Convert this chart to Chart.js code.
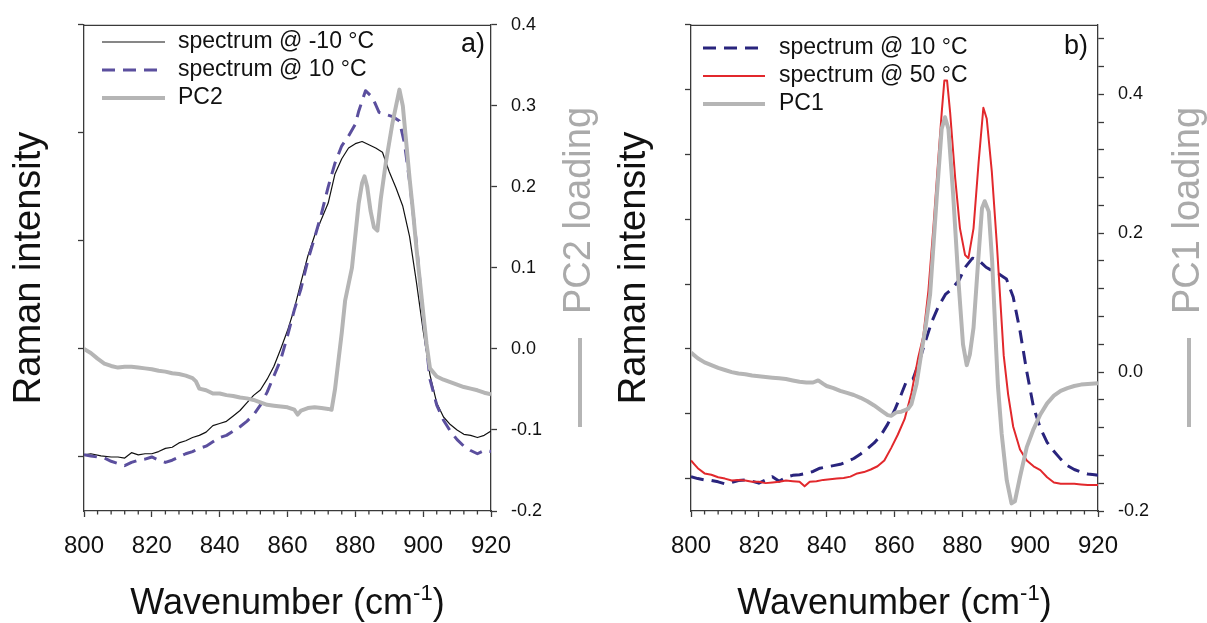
<!DOCTYPE html>
<html><head><meta charset="utf-8">
<script src="https://cdn.jsdelivr.net/npm/chart.js@4.4.1/dist/chart.umd.min.js"></script>
<style>
html,body{margin:0;padding:0;background:#fff;}
#wrap{position:relative;width:1207px;height:623px;overflow:hidden;background:#fff;}
.panel{position:absolute;top:0;height:623px;}
#pa{left:0;width:605px;}
#pb{left:605px;width:602px;}
canvas{display:block;}
</style></head><body>
<div id="wrap">
  <div class="panel" id="pa"><canvas id="ca" width="605" height="623"></canvas></div>
  <div class="panel" id="pb"><canvas id="cb" width="602" height="623"></canvas></div>
</div>
<script>
// ---------- tick definitions ----------
const xTicks = [800, 820, 840, 860, 880, 900, 920];
const xMinorTicks = [804, 808, 812, 816, 824, 828, 832, 836, 844, 848, 852, 856, 864, 868, 872, 876, 884, 888, 892, 896, 904, 908, 912, 916];
const leftTicksA = [0, 1, 2, 3, 4];
const rightTicksA = [-0.2, -0.1, 0.0, 0.1, 0.2, 0.3, 0.4];
const leftTicksB = [0, 1, 2, 3, 4, 5, 6, 7];
const rightTicksB = [-0.2, -0.16, -0.12, -0.08, -0.04, 0.0, 0.04, 0.08, 0.12, 0.16, 0.2, 0.24, 0.28, 0.32, 0.36, 0.4, 0.44, 0.48];
const rightLabelsB = [-0.2, 0.0, 0.2, 0.4];

// ---------- panel a) data ----------
const wnA_m10 = [800,802,805,808,810,812,814,816,818,820,822,824,826,828,830,832,834,836,838,840,842,844,846,848,850,852,854,856,858,860,862,864,866,868,870,872,874,876,878,880,882,884,886,888,890,892,894,896,898,900,902,904,906,908,910,912,914,916,918,920];
const intA_m10 = [0.02,0.03,0.01,0.0,0.0,-0.01,0.04,0.02,0.03,0.03,0.05,0.08,0.09,0.13,0.15,0.18,0.2,0.23,0.29,0.31,0.33,0.38,0.43,0.5,0.57,0.62,0.72,0.84,1.0,1.17,1.37,1.62,1.86,2.05,2.2,2.35,2.62,2.76,2.86,2.9,2.92,2.89,2.86,2.82,2.64,2.49,2.32,2.04,1.62,1.17,0.76,0.5,0.37,0.3,0.25,0.21,0.2,0.18,0.2,0.24];

const wnA_10 = [800,802,804,806,808,810,812,814,816,818,820,822,824,826,828,830,832,834,836,838,840,842,844,846,848,850,852,854,856,858,860,862,864,866,868,870,872,874,876,878,880,881,883,885,887,889,891,893,894.5,896,898,900,902,904,906,908,910,912,914,916,918,920];
const intA_10 = [0.02,0.01,0.0,-0.01,-0.04,-0.06,-0.08,-0.05,-0.03,-0.02,0.0,-0.03,-0.05,-0.03,0.0,0.03,0.05,0.08,0.1,0.14,0.18,0.2,0.24,0.28,0.33,0.39,0.48,0.6,0.75,0.9,1.12,1.36,1.56,1.82,2.03,2.25,2.5,2.72,2.88,2.97,3.08,3.2,3.39,3.33,3.19,3.17,3.15,3.11,2.9,2.55,1.98,1.3,0.72,0.48,0.34,0.24,0.16,0.1,0.06,0.03,0.06,0.05];

const wnA_pc2 = [800,802,804,806,808,810,812,814,816,818,820,822,824,826,828,830,832,833,834,836,838,840,842,844,846,848,850,852,854,856,858,860,862,863,864,866,868,870,872,873,874,875,876,877,878,879,880,881,882,882.7,883.5,884.5,885.5,886.5,887.5,889,891,893,894,895,896,897,898,899,900,901,902,904,906,908,910,912,914,916,918,920];
const loadA_pc2 = [0.0,-0.005,-0.012,-0.018,-0.021,-0.023,-0.022,-0.022,-0.023,-0.024,-0.025,-0.027,-0.028,-0.03,-0.031,-0.033,-0.036,-0.04,-0.049,-0.051,-0.055,-0.055,-0.057,-0.058,-0.06,-0.061,-0.063,-0.066,-0.069,-0.07,-0.071,-0.072,-0.075,-0.081,-0.076,-0.073,-0.072,-0.073,-0.074,-0.075,-0.05,-0.015,0.02,0.06,0.08,0.1,0.14,0.18,0.205,0.213,0.2,0.17,0.15,0.146,0.185,0.23,0.28,0.32,0.3,0.255,0.21,0.17,0.125,0.085,0.045,0.006,-0.024,-0.034,-0.038,-0.041,-0.044,-0.047,-0.049,-0.051,-0.054,-0.056];

// ---------- panel b) data ----------
const wnB_10 = [800,802,804,806,808,810,812,814,816,818,820,822,824,826,828,830,832,834,836,838,840,842,844,846,848,850,852,854,856,858,860,862,863.5,865.5,867.5,869,871,873,875,877,879,881,883,885,887,889,891,893,895,897,899,901,903,905,907,909,911,913,915,917,919,920];
const intB_10 = [0.03,0.0,-0.02,-0.03,-0.05,-0.08,-0.06,-0.03,-0.02,-0.04,-0.07,-0.02,0.03,-0.04,0.02,0.05,0.06,0.08,0.11,0.16,0.18,0.2,0.22,0.26,0.31,0.38,0.46,0.55,0.67,0.84,1.05,1.3,1.5,1.54,1.84,2.1,2.42,2.66,2.84,2.93,3.06,3.27,3.4,3.36,3.26,3.2,3.15,3.08,2.8,2.28,1.65,1.1,0.78,0.56,0.42,0.3,0.2,0.14,0.1,0.07,0.06,0.05];

const wnB_50 = [800,801,802,804,806,808,810,812,814,816,818,820,822,824,826,828,830,832,833.5,835,837,839,841,843,845,847,849,851,853,855,857,859,861,863,865,867,868.5,870,871.5,873,874,874.7,875.5,876.4,877.9,879.3,880.8,881.8,883.3,884.8,886.2,887.2,888.7,890.2,892.2,893.5,895,897,899,901,903,905,907,909,911,913,915,917,920];
const intB_50 = [0.28,0.22,0.16,0.08,0.06,0.02,0.0,-0.03,-0.02,-0.03,-0.05,-0.05,-0.07,-0.06,-0.05,-0.03,-0.04,-0.05,-0.12,-0.05,-0.04,-0.02,-0.01,0.0,0.01,0.03,0.08,0.1,0.14,0.19,0.28,0.47,0.68,0.92,1.32,1.87,2.2,2.9,3.9,5.0,5.7,6.14,6.14,5.65,4.63,3.86,3.45,3.4,3.86,4.88,5.72,5.55,4.73,3.6,1.9,1.3,0.8,0.45,0.28,0.19,0.13,0.02,-0.06,-0.08,-0.08,-0.08,-0.09,-0.1,-0.1];

const wnB_pc1 = [800,802,804,806,808,810,812,814,816,818,820,822,824,826,828,830,832,834,836,837.5,839,840,842,844,846,848,850,852,854,856,858,859,860.5,862,864,865,866.5,868,869,870.5,872.5,873.9,874.9,875.9,877.3,878.8,880.2,881.3,882.2,883.3,884.8,885.8,886.6,887.8,888.8,890,890.5,891.6,893.1,894.5,895.5,897,899,901,903,905,907,909,911,913,915,917,920];
const loadB_pc1 = [0.028,0.02,0.014,0.01,0.006,0.003,0.0,-0.002,-0.003,-0.005,-0.006,-0.007,-0.008,-0.009,-0.01,-0.012,-0.014,-0.015,-0.015,-0.012,-0.017,-0.02,-0.023,-0.027,-0.03,-0.033,-0.037,-0.042,-0.048,-0.055,-0.062,-0.063,-0.058,-0.057,-0.053,-0.046,-0.017,0.03,0.06,0.112,0.255,0.35,0.367,0.35,0.255,0.135,0.04,0.01,0.025,0.064,0.169,0.236,0.246,0.231,0.159,0.03,-0.02,-0.089,-0.156,-0.189,-0.186,-0.151,-0.108,-0.082,-0.061,-0.045,-0.034,-0.027,-0.023,-0.02,-0.018,-0.017,-0.016];

// ---------- styling ----------
const FONT = '"Liberation Sans", Arial, Helvetica, sans-serif';
const AXIS_COLOR = '#3a3a3a';
const PC_GRAY = '#b5b5b5';
const TITLE_GRAY = '#aaaaaa';

function pts(xs, ys) { return xs.map((x, i) => ({ x: x, y: ys[i] })); }

const framePlugin = {
  id: 'frameMinor',
  afterDraw(chart, args, o) {
    const { ctx, chartArea: ca } = chart;
    const xs = chart.scales.x;
    ctx.save();
    ctx.strokeStyle = AXIS_COLOR;
    ctx.lineWidth = 1.3;
    ctx.beginPath(); ctx.moveTo(ca.left, ca.top + 0.5); ctx.lineTo(ca.right, ca.top + 0.5); ctx.stroke();
    xMinorTicks.forEach(v => {
      const px = xs.getPixelForValue(v);
      ctx.beginPath(); ctx.moveTo(px, ca.bottom); ctx.lineTo(px, ca.bottom + 3.5); ctx.stroke();
    });
    ctx.restore();
  }
};

const legendPlugin = {
  id: 'inLegend',
  afterDraw(chart, args, o) {
    const ctx = chart.ctx;
    ctx.save();
    ctx.font = o.fontSize + 'px ' + FONT;
    ctx.textBaseline = 'middle';
    ctx.textAlign = 'left';
    chart.data.datasets.forEach((ds, i) => {
      const y = o.y0 + i * o.dy;
      ctx.strokeStyle = ds.borderColor;
      ctx.lineWidth = ds.borderWidth;
      ctx.setLineDash(ds.borderDash || []);
      ctx.beginPath(); ctx.moveTo(o.x0, y); ctx.lineTo(o.x1, y); ctx.stroke();
      ctx.setLineDash([]);
      ctx.fillStyle = '#111';
      ctx.fillText(ds.label, o.tx, y);
    });
    ctx.restore();
  }
};

const titlePlugin = {
  id: 'titles',
  afterDraw(chart, args, o) {
    const { ctx, chartArea: ca } = chart;
    // bottom axis title with superscript
    ctx.save();
    ctx.fillStyle = '#111';
    ctx.textBaseline = 'alphabetic';
    ctx.textAlign = 'left';
    const mainF = o.xSize + 'px ' + FONT, supF = o.supSize + 'px ' + FONT;
    ctx.font = mainF; const w1 = ctx.measureText(o.xMain).width; const w3 = ctx.measureText(')').width;
    ctx.font = supF; const w2 = ctx.measureText(o.xSup).width;
    let x = (ca.left + ca.right) / 2 - (w1 + w2 + w3) / 2;
    ctx.font = mainF; ctx.fillText(o.xMain, x, o.xBase); x += w1;
    ctx.font = supF; ctx.fillText(o.xSup, x, o.xBase - o.supRaise); x += w2;
    ctx.font = mainF; ctx.fillText(')', x, o.xBase);
    ctx.restore();
    // right axis title, rotated, reading upward, with a line sample
    ctx.save();
    ctx.translate(o.rX, o.rY0);
    ctx.rotate(-Math.PI / 2);
    ctx.strokeStyle = PC_GRAY; ctx.lineWidth = 4;
    ctx.beginPath(); ctx.moveTo(0, 0); ctx.lineTo(o.rDash, 0); ctx.stroke();
    ctx.fillStyle = TITLE_GRAY;
    ctx.font = o.rSize + 'px ' + FONT;
    ctx.textBaseline = 'middle'; ctx.textAlign = 'left';
    ctx.fillText(o.rText, o.rTextStart, 0);
    ctx.restore();
    // panel letter
    ctx.save();
    ctx.fillStyle = '#111';
    ctx.font = o.pSize + 'px ' + FONT;
    ctx.textAlign = 'right'; ctx.textBaseline = 'middle';
    ctx.fillText(o.pText, o.pX, o.pY);
    ctx.restore();
  }
};

function gridOpts() {
  return { display: true, drawOnChartArea: false, drawTicks: true, tickLength: 6, tickColor: AXIS_COLOR, tickWidth: 1.3 };
}
function borderOpts() { return { display: true, color: AXIS_COLOR, width: 1.3 }; }

function makeScales(p) {
  return {
    x: {
      type: 'linear', position: 'bottom', min: 800, max: 920,
      afterBuildTicks: s => { s.ticks = xTicks.map(v => ({ value: v })); },
      afterFit: s => { s.height = 112; },
      ticks: { autoSkip: false, maxRotation: 0, minRotation: 0, padding: 15, color: '#111', font: { size: 24, family: FONT }, callback: v => String(v) },
      grid: gridOpts(), border: borderOpts()
    },
    yL: {
      type: 'linear', position: 'left', min: -0.5, max: p.leftMax,
      afterBuildTicks: s => { s.ticks = p.leftTicks.map(v => ({ value: v })); },
      afterFit: s => { s.width = p.leftW; },
      ticks: { autoSkip: false, callback: () => '' },
      grid: gridOpts(), border: borderOpts(),
      title: { display: true, text: 'Raman intensity', color: '#111', font: { size: 38, family: FONT }, padding: { top: 7, bottom: 0 } }
    },
    yR: {
      type: 'linear', position: 'right', min: -0.2, max: p.rightMax,
      afterBuildTicks: s => { s.ticks = p.rightTicks.map(v => ({ value: v })); },
      afterFit: s => { s.width = p.rightW; },
      ticks: { autoSkip: false, crossAlign: 'near', padding: p.rightPad, color: '#111', font: { size: 18, family: FONT },
        callback: v => p.rightLabels.some(l => Math.abs(l - v) < 1e-6) ? v.toFixed(1) : '' },
      grid: gridOpts(), border: borderOpts()
    }
  };
}

function lineDs(label, data, axis, color, width, dash, order) {
  return { label: label, data: data, yAxisID: axis, borderColor: color, backgroundColor: color, borderWidth: width,
    borderDash: dash, pointRadius: 0, tension: 0, fill: false, order: order, borderJoinStyle: 'round' };
}

new Chart(document.getElementById('ca'), {
  type: 'line',
  data: { datasets: [
    lineDs('spectrum @ -10 °C', pts(wnA_m10, intA_m10), 'yL', '#111111', 1.2, [], 2),
    lineDs('spectrum @ 10 °C', pts(wnA_10, intA_10), 'yL', '#5b4f9e', 3, [13, 8], 1),
    lineDs('PC2', pts(wnA_pc2, loadA_pc2), 'yR', PC_GRAY, 4, [], 0)
  ] },
  options: {
    responsive: false, animation: false, events: [],
    layout: { padding: { top: 22, left: 0, right: 0, bottom: 0 } },
    scales: makeScales({ leftMax: 4, leftTicks: leftTicksA, leftW: 84, rightMax: 0.4, rightTicks: rightTicksA, rightLabels: rightTicksA, rightW: 114, rightPad: 14 }),
    plugins: {
      legend: { display: false }, tooltip: { enabled: false },
      inLegend: { x0: 102, x1: 165, tx: 178, y0: 42, dy: 28, fontSize: 23 },
      titles: { xMain: 'Wavenumber (cm', xSup: '-1', xSize: 36, supSize: 22, supRaise: 14, xBase: 614,
        rX: 580, rY0: 427, rDash: 89, rTextStart: 113, rSize: 38, rText: 'PC2 loading',
        pText: 'a)', pX: 485, pY: 45, pSize: 27 }
    }
  },
  plugins: [framePlugin, legendPlugin, titlePlugin]
});

new Chart(document.getElementById('cb'), {
  type: 'line',
  data: { datasets: [
    lineDs('spectrum @ 10 °C', pts(wnB_10, intB_10), 'yL', '#29247d', 3, [13, 8], 2),
    lineDs('spectrum @ 50 °C', pts(wnB_50, intB_50), 'yL', '#e2282c', 2, [], 1),
    lineDs('PC1', pts(wnB_pc1, loadB_pc1), 'yR', PC_GRAY, 4, [], 0)
  ] },
  options: {
    responsive: false, animation: false, events: [],
    layout: { padding: { top: 22, left: 0, right: 0, bottom: 0 } },
    scales: makeScales({ leftMax: 7, leftTicks: leftTicksB, leftW: 86, rightMax: 0.5, rightTicks: rightTicksB, rightLabels: rightLabelsB, rightW: 109, rightPad: 14 }),
    plugins: {
      legend: { display: false }, tooltip: { enabled: false },
      inLegend: { x0: 98, x1: 160, tx: 174, y0: 48, dy: 28, fontSize: 23 },
      titles: { xMain: 'Wavenumber (cm', xSup: '-1', xSize: 36, supSize: 22, supRaise: 14, xBase: 614,
        rX: 584, rY0: 427, rDash: 89, rTextStart: 113, rSize: 38, rText: 'PC1 loading',
        pText: 'b)', pX: 483, pY: 47, pSize: 27 }
    }
  },
  plugins: [framePlugin, legendPlugin, titlePlugin]
});
</script>
</body></html>
